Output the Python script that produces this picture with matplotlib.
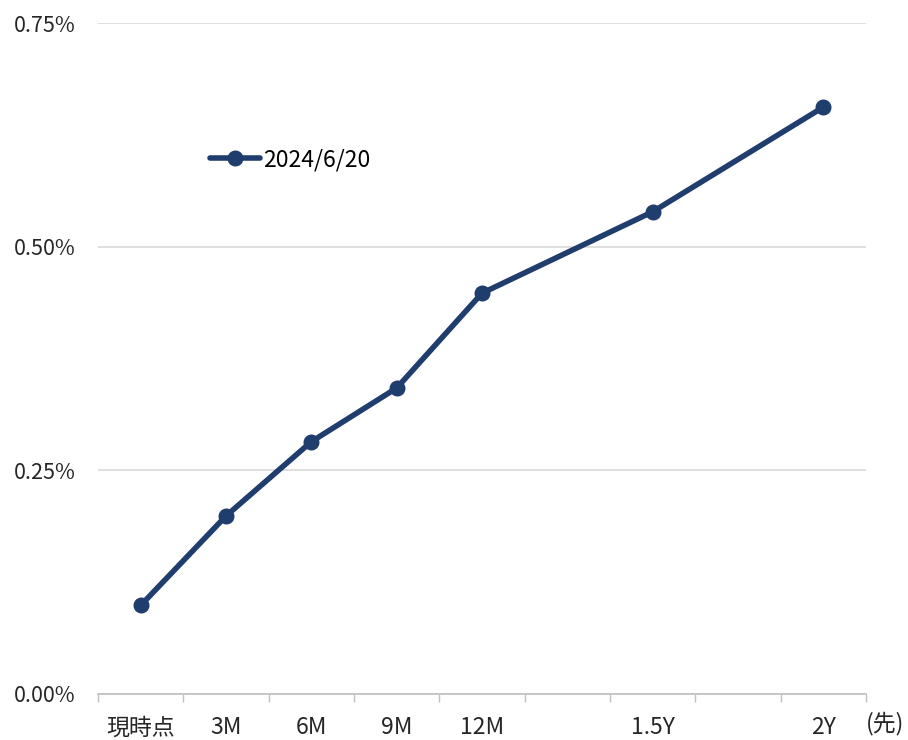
import matplotlib
matplotlib.use("Agg")
import matplotlib.pyplot as plt
from matplotlib.ticker import FixedLocator, FuncFormatter

plt.rcParams['font.family'] = ['Noto Sans CJK JP', 'DejaVu Sans']

# forecast horizon in months and the implied rate (%)
months = [0, 3, 6, 9, 12, 18, 24]
rates = [0.099, 0.199, 0.282, 0.342, 0.448, 0.539, 0.656]
series_name = "2024/6/20"

# category slots every 3 months, labelled only where there is a point
slot_months = [0, 3, 6, 9, 12, 15, 18, 21, 24]
slot_labels = ["現時点", "3M", "6M", "9M", "12M", "", "1.5Y", "", "2Y"]
y_ticks = [0.0, 0.25, 0.50, 0.75]

navy = "#1f3d6d"
grid_col = "#d9d9d9"
text_col = "#262626"

fig = plt.figure(figsize=(9.08, 7.40), dpi=100)
ax = fig.add_axes([98 / 908, 1 - 694 / 740, 768 / 908, 671 / 740])

xs = [m / 3 for m in months]
ax.plot(xs, rates, color=navy, linewidth=4, marker="o", markersize=10.5,
        solid_capstyle="round", label=series_name, zorder=3)

ax.set_xlim(-0.5, len(slot_months) - 0.5)
ax.set_ylim(0, 0.75)

ax.xaxis.set_major_locator(FixedLocator(range(len(slot_months))))
ax.set_xticklabels(slot_labels, fontsize=16.5, color=text_col)
ax.xaxis.set_minor_locator(FixedLocator([i - 0.5 for i in range(len(slot_months) + 1)]))
ax.tick_params(axis="x", which="major", length=0, pad=16)
ax.tick_params(axis="x", which="minor", length=6, color="#bfbfbf", width=1)

ax.yaxis.set_major_locator(FixedLocator(y_ticks))
ax.yaxis.set_major_formatter(FuncFormatter(lambda v, _: f"{v:.2f}%"))
ax.tick_params(axis="y", length=0, pad=16, labelsize=15.5, labelcolor=text_col)

ax.grid(axis="y", color=grid_col, linewidth=1.2)
ax.set_axisbelow(True)
for side in ["left", "right", "top"]:
    ax.spines[side].set_visible(False)
ax.spines["bottom"].set_color("#bfbfbf")
ax.spines["bottom"].set_linewidth(1.2)

ax.legend(loc="center left", bbox_to_anchor=((210 - 98) / 768, (694 - 160) / 671),
          frameon=False, fontsize=16.5, handlelength=2.2, handletextpad=0.12,
          borderpad=0, borderaxespad=0)

fig.text(885 / 908, 1 - 724 / 740, "(先)", fontsize=16.5, color=text_col,
         ha="center", va="center")

fig.savefig("out.png", dpi=100)
